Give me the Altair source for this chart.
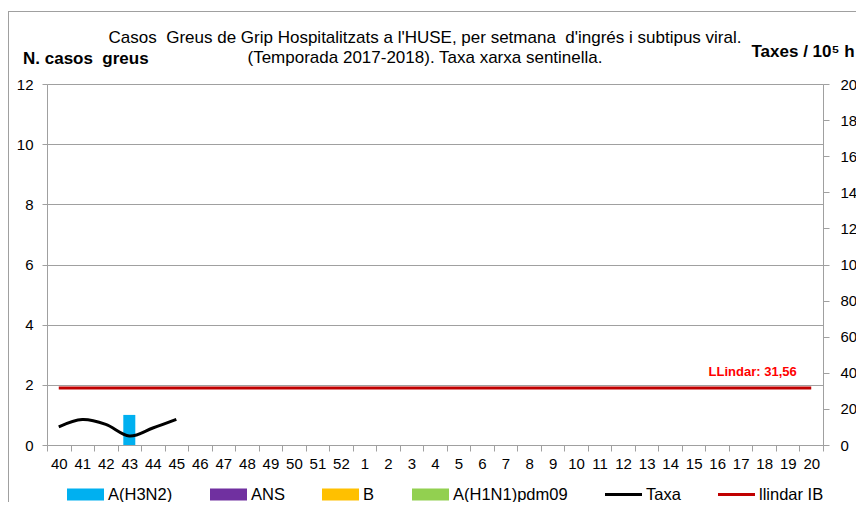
import altair as alt
import pandas as pd

FONT = "Liberation Sans"
NB = "\u00a0"

# ---- data ----
weeks = ["40", "41", "42", "43", "44", "45", "46", "47", "48", "49", "50", "51", "52",
         "1", "2", "3", "4", "5", "6", "7", "8", "9", "10", "11", "12", "13", "14",
         "15", "16", "17", "18", "19", "20"]
series = ["A(H3N2)", "ANS", "B", "A(H1N1)pdm09", "Taxa", "llindar IB"]
colors = ["#00B0F0", "#7030A0", "#FFC000", "#92D050", "#000000", "#C00000"]

weeks_reported = ["40", "41", "42", "43", "44", "45"]
h3n2 = [0, 0, 0, 1, 0, 0]
ans = [0, 0, 0, 0, 0, 0]
b = [0, 0, 0, 0, 0, 0]
h1n1 = [0, 0, 0, 0, 0, 0]
taxa = [10.1, 14.1, 11.4, 5.0, 9.4, 14.2]
llindar = 31.56
llindar_weeks = ["40", "20"]
llindar_label_week = "19"

title_lines = ["Casos" + NB + " Greus de Grip Hospitalitzats a l'HUSE, per setmana" + NB
               + " d'ingrés i subtipus viral.",
               "(Temporada 2017-2018). Taxa xarxa sentinella."]
left_title = "N. casos" + NB + " greus"
right_title = "Taxes / 10⁵ h"

# ---- tables ----
rows = []
for name, vals in [("A(H3N2)", h3n2), ("ANS", ans), ("B", b), ("A(H1N1)pdm09", h1n1)]:
    for w, v in zip(weeks_reported, vals):
        rows.append({"week": w, "serie": name, "n": v})
bars_df = pd.DataFrame(rows)
taxa_df = pd.DataFrame({"week": weeks_reported, "rate": taxa})
thr_df = pd.DataFrame({"week": llindar_weeks, "rate": [llindar, llindar]})
thr_lab_df = pd.DataFrame({"week": [llindar_label_week], "rate": [llindar],
                           "label": ["LLindar: " + str(llindar).replace(".", ",")]})
legend_df = pd.DataFrame({"serie": series})

color_scale = alt.Scale(domain=series, range=colors)
rect_path = "M-1,-0.32L1,-0.32L1,0.32L-1,0.32Z"
line_path = "M-1,-0.08L1,-0.08L1,0.08L-1,0.08Z"
shape_scale = alt.Scale(domain=series,
                        range=[rect_path, rect_path, rect_path, rect_path, line_path, line_path])

GRAY = "#A0A0A0"

legend = alt.Legend(title=None, orient="none", legendX=20, legendY=392, direction="horizontal",
                    labelFont=FONT, labelFontSize=16.5, labelColor="#000000",
                    symbolSize=1369, symbolStrokeWidth=0, columnPadding=37,
                    labelOffset=4, padding=0)

x_scale = alt.Scale(domain=weeks, paddingInner=0, paddingOuter=0)
x_axis = alt.Axis(title=None, labelAngle=0, tickBand="extent", tickSize=6,
                  tickColor=GRAY, domainColor=GRAY, labelPadding=5,
                  labelFont=FONT, labelFontSize=15, labelColor="#000000", grid=False)

rate_scale = alt.Scale(domain=[0, 200], nice=False)
rate_axis = alt.Axis(orient="right", values=list(range(0, 201, 20)), grid=False,
                     domainColor=GRAY, tickColor=GRAY, tickSize=6, labelPadding=11,
                     labelFont=FONT, labelFontSize=15, labelColor="#000000",
                     title=right_title, titleAngle=0, titleAlign="left",
                     titleBaseline="alphabetic", titleX=-72, titleY=-28,
                     titleFont=FONT, titleFontSize=17, titleFontWeight="bold",
                     titleColor="#000000")

bars = alt.Chart(bars_df).transform_filter("datum.n > 0").mark_bar(width=12).encode(
    x=alt.X("week:N", scale=x_scale, axis=x_axis),
    y=alt.Y("sum(n):Q", scale=alt.Scale(domain=[0, 12], nice=False),
            axis=alt.Axis(values=[0, 2, 4, 6, 8, 10, 12], grid=True, gridColor=GRAY,
                          domainColor=GRAY, tickColor=GRAY, tickSize=5, labelPadding=9,
                          labelFont=FONT, labelFontSize=15, labelColor="#000000",
                          title=left_title, titleAngle=0, titleAlign="left",
                          titleBaseline="alphabetic", titleX=-24.5, titleY=-20.5,
                          titleFont=FONT, titleFontSize=17, titleFontWeight="bold",
                          titleColor="#000000")),
    color=alt.Color("serie:N", scale=color_scale, legend=legend),
)

legend_layer = alt.Chart(legend_df).transform_filter("false").mark_point(
    filled=True, opacity=1).encode(
    color=alt.Color("serie:N", scale=color_scale, legend=legend),
    shape=alt.Shape("serie:N", scale=shape_scale, legend=legend),
)

frame_data = alt.Data(values=[{"k": 1}])
frame_top = alt.Chart(frame_data).mark_rule(color=GRAY, strokeWidth=1).encode(
    x=alt.value(-39), x2=alt.value(830), y=alt.value(-72.5))
frame_left = alt.Chart(frame_data).mark_rule(color=GRAY, strokeWidth=1).encode(
    x=alt.value(-38.5), y=alt.value(-73), y2=alt.value(440))

taxa_line = alt.Chart(taxa_df).mark_line(interpolate="cardinal", strokeWidth=3,
                                         color="#000000").encode(
    x=alt.X("week:N", scale=x_scale, axis=x_axis),
    y=alt.Y("rate:Q", scale=rate_scale, axis=rate_axis),
)

thr_line = alt.Chart(thr_df).mark_line(strokeWidth=3, color="#C00000").encode(
    x=alt.X("week:N", scale=x_scale, axis=x_axis),
    y=alt.Y("rate:Q", scale=rate_scale, axis=rate_axis),
)

thr_text = alt.Chart(thr_lab_df).mark_text(
    align="right", baseline="middle", dx=9, dy=-16, font=FONT, fontSize=13,
    fontWeight="bold", color="#FF0000").encode(
    x=alt.X("week:N", scale=x_scale, axis=x_axis),
    y=alt.Y("rate:Q", scale=rate_scale, axis=rate_axis),
    text="label:N",
)

left = alt.layer(frame_top, frame_left, bars, legend_layer)
right = alt.layer(taxa_line, thr_line, thr_text)

chart = alt.layer(left, right).resolve_scale(
    y="independent"
).properties(
    width=776, height=361,
    title=alt.TitleParams(
        text=title_lines,
        anchor="middle", frame="group", font=FONT, fontSize=17, fontWeight="normal",
        color="#000000", baseline="bottom", offset=0, dx=-10, dy=73, lineHeight=20),
    autosize=alt.AutoSizeParams(type="none"),
    padding={"left": 39, "top": 76, "right": 33, "bottom": 57},
).configure_view(stroke=None).configure(background="#FFFFFF")

chart.save("out.html", embed_options={"renderer": "svg", "actions": False})
